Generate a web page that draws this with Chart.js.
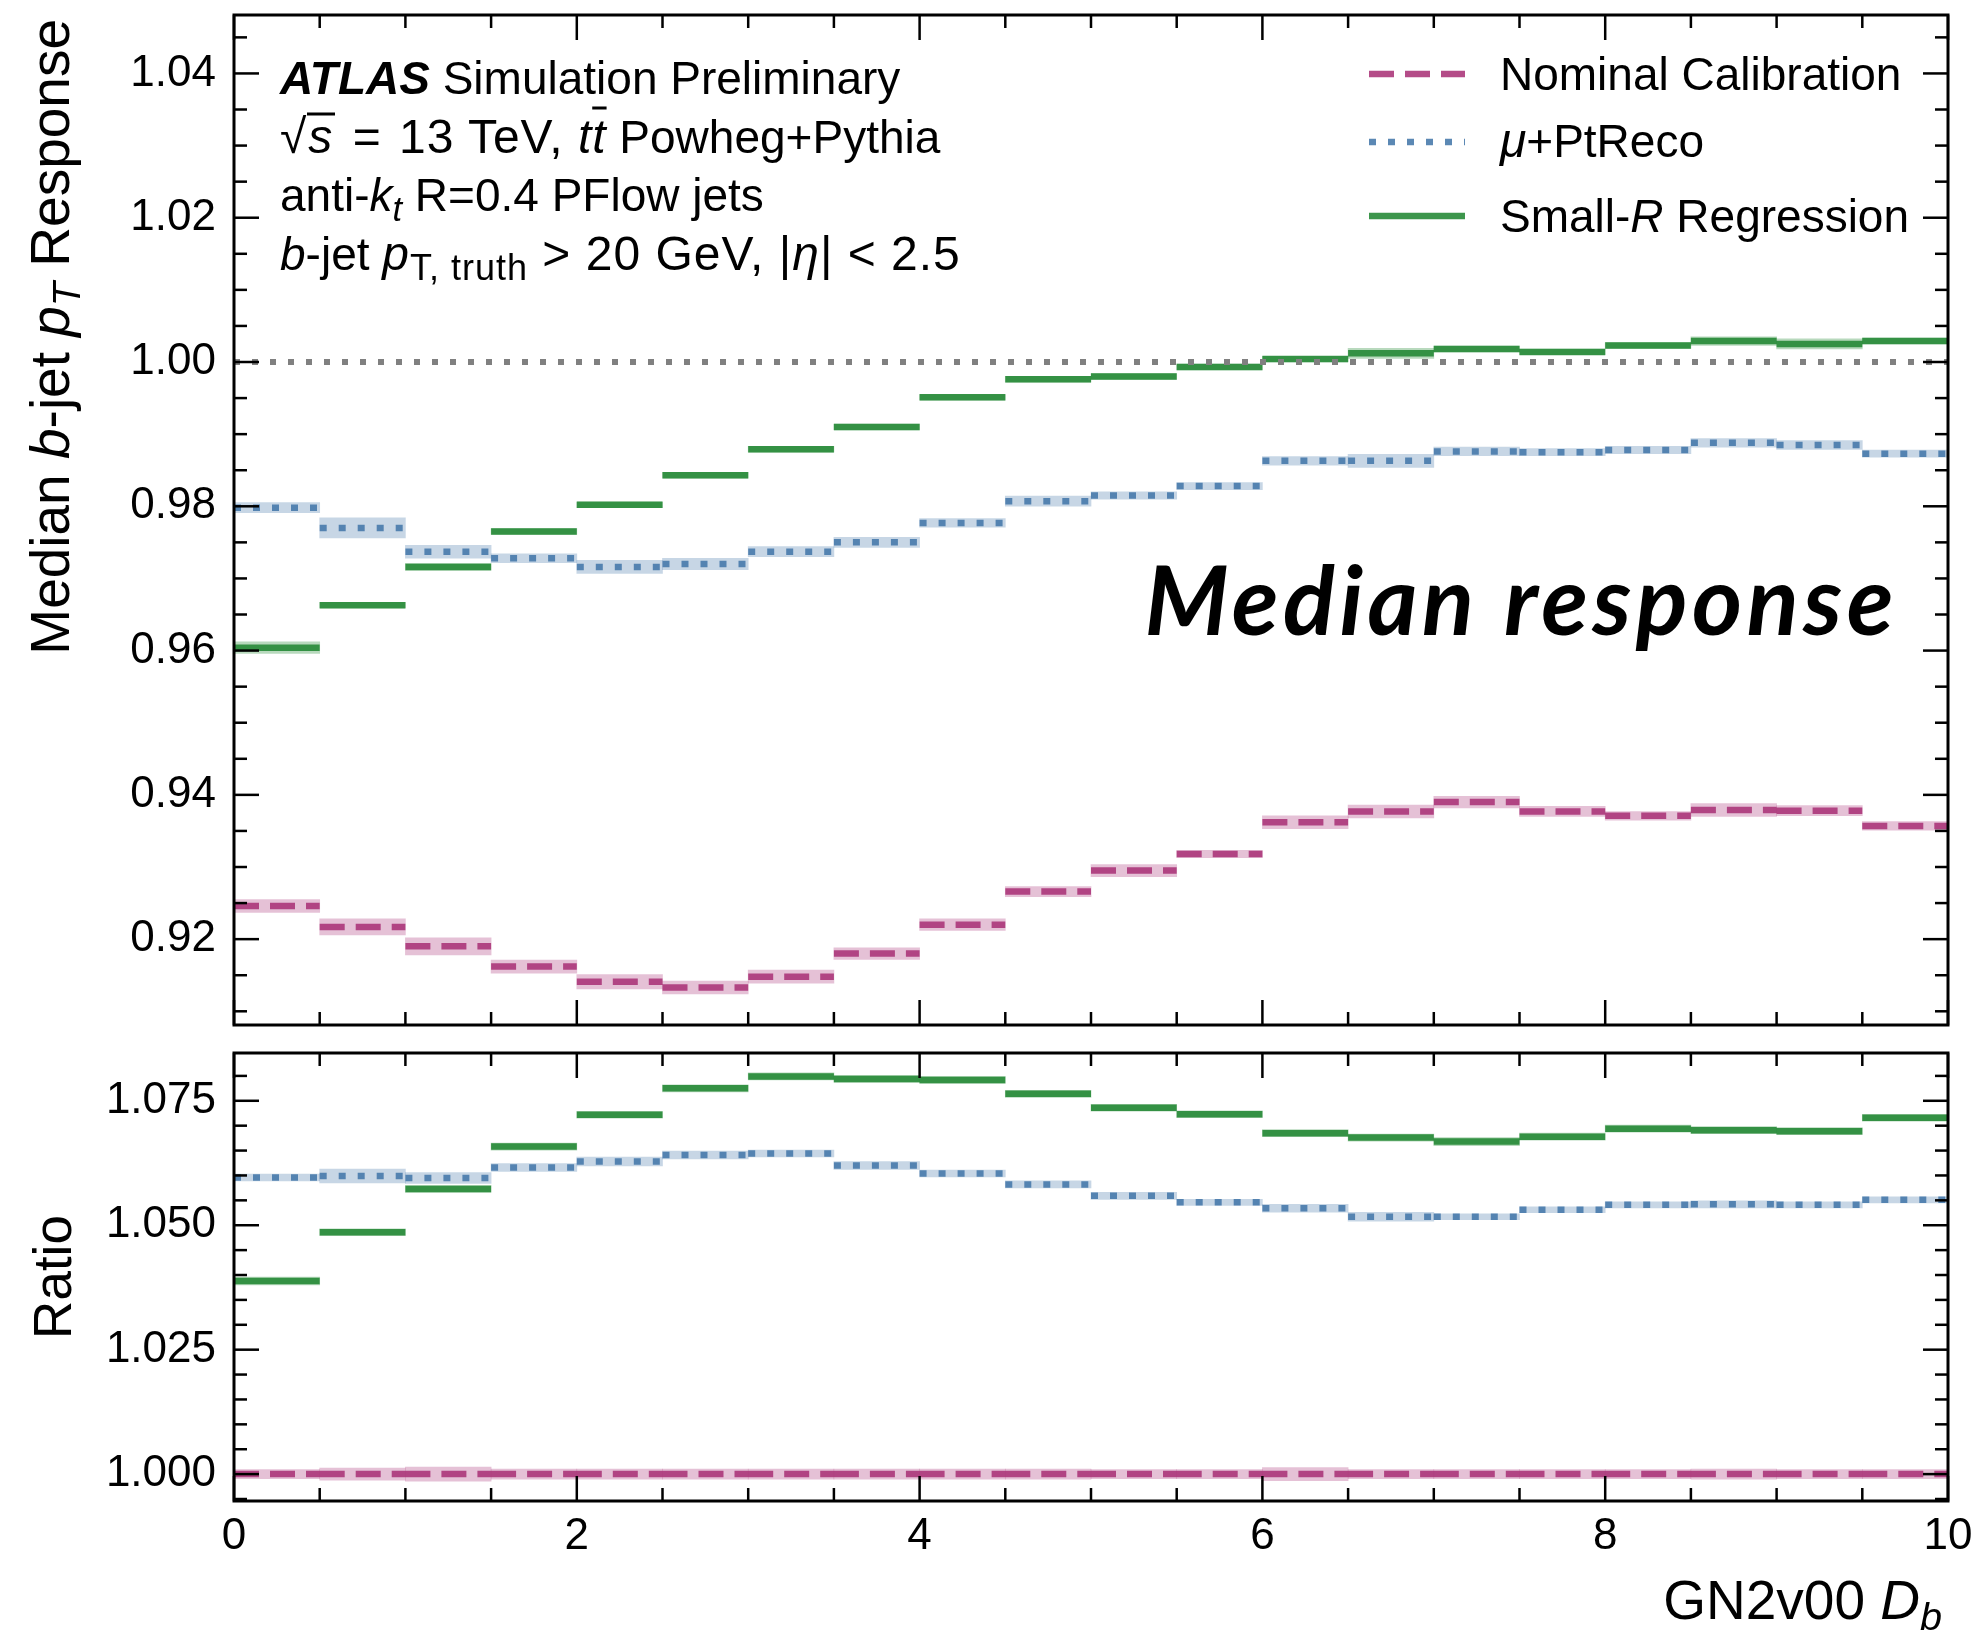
<!DOCTYPE html>
<html>
<head>
<meta charset="utf-8">
<script src="https://cdn.jsdelivr.net/npm/chart.js@4.4.1/dist/chart.umd.min.js"></script>
<style>
html,body{margin:0;padding:0;background:#fff;}
#wrap{position:relative;width:1977px;height:1630px;overflow:hidden;font-family:"Liberation Sans",Arial,Helvetica,sans-serif;color:#000;}
canvas{position:absolute;left:0;}
#cTop{top:0;}
#cBot{top:1040px;}
.t{position:absolute;white-space:nowrap;font-size:46px;line-height:46px;transform:translateY(-50%);}
.t sub{font-size:0.75em;vertical-align:-0.28em;line-height:0;}
.m{font-size:48px;letter-spacing:1px;}
.op{margin:0 3px;}
.ax{position:absolute;white-space:nowrap;font-size:55px;line-height:60px;}
.ax sub{font-size:0.72em;vertical-align:-0.28em;line-height:0;}
.rot{transform-origin:0 0;transform:rotate(-90deg);}
.ov{border-top:3px solid #000;padding:0 2px 0 1px;display:inline-block;line-height:42px;}
.ovl{text-decoration:overline;text-decoration-thickness:3px;}
#median{position:absolute;right:79px;top:598px;transform:translateY(-50%);white-space:nowrap;font-family:Lato,"Open Sans",sans-serif;font-style:italic;font-weight:700;font-size:96px;line-height:96px;letter-spacing:4.5px;}
</style>
</head>
<body>
<div id="wrap">
  <canvas id="cTop" width="1977" height="1040"></canvas>
  <canvas id="cBot" width="1977" height="590"></canvas>

  <div class="t" style="left:280px;top:78px;"><b><i>ATLAS</i></b> Simulation Preliminary</div>
  <div class="t" style="left:280px;top:136px;"><span class="m">√<span class="ov"><i>s</i></span> <span class="op">=</span> 13 TeV, <i>t</i><i class="ovl">t</i></span> Powheg+Pythia</div>
  <div class="t" style="left:280px;top:195px;">anti-<i>k</i><sub><i>t</i></sub> R=0.4 PFlow jets</div>
  <div class="t" style="left:280px;top:254px;"><i>b</i>-jet <span class="m"><i>p</i><sub>T, truth</sub> &gt; 20 GeV, |<i>η</i>| &lt; 2.5</span></div>

  <svg style="position:absolute;left:1369px;top:0;" width="96" height="260">
    <line x1="0" y1="74" x2="96" y2="74" stroke="rgba(170,51,119,0.88)" stroke-width="6.5" stroke-dasharray="25 11"/>
    <line x1="0" y1="142" x2="96" y2="142" stroke="rgba(68,119,170,0.88)" stroke-width="6.5" stroke-dasharray="7 12"/>
    <line x1="0" y1="216" x2="96" y2="216" stroke="rgba(34,136,51,0.88)" stroke-width="6.5"/>
  </svg>
  <div class="t" style="left:1500px;top:74px;">Nominal Calibration</div>
  <div class="t" style="left:1500px;top:141px;"><i style="font-size:48px">μ</i>+PtReco</div>
  <div class="t" style="left:1500px;top:216px;">Small-<i>R</i> Regression</div>

  <div id="median">Median response</div>

  <div class="ax rot" style="left:20px;top:1019px;width:1000px;text-align:right;">Median <i>b</i>-jet <i>p</i><sub><i>T</i></sub> Response</div>
  <div class="ax rot" style="left:23px;top:1477px;width:400px;text-align:center;font-size:53px;">Ratio</div>
  <div class="ax" style="right:35px;top:1600px;transform:translateY(-50%);">GN2v00 <i>D</i><sub><i>b</i></sub></div>
</div>

<script>
// ---------------- data ----------------
const BIN_LOW  = [0.0,0.5,1.0,1.5,2.0,2.5,3.0,3.5,4.0,4.5,5.0,5.5,6.0,6.5,7.0,7.5,8.0,8.5,9.0,9.5];
const BIN_HIGH = [0.5,1.0,1.5,2.0,2.5,3.0,3.5,4.0,4.5,5.0,5.5,6.0,6.5,7.0,7.5,8.0,8.5,9.0,9.5,10.0];

const NOMINAL     = [0.9246,0.9217,0.9190,0.9162,0.9141,0.9133,0.9148,0.9180,0.9220,0.9266,0.9295,0.9318,0.9362,0.9377,0.9390,0.9377,0.9371,0.9379,0.9378,0.9357];
const NOMINAL_ERR = [0.0009,0.0011,0.0012,0.0009,0.0010,0.0009,0.0009,0.0008,0.0008,0.0007,0.00085,0.0005,0.0009,0.0009,0.0008,0.0007,0.0006,0.0009,0.0007,0.0006];

const MU_PTRECO     = [0.9798,0.9770,0.9737,0.9728,0.9716,0.9720,0.9737,0.9750,0.9777,0.9807,0.9815,0.9828,0.9863,0.9863,0.9876,0.9875,0.9878,0.9888,0.9885,0.9873];
const MU_PTRECO_ERR = [0.0007,0.0014,0.0009,0.0006,0.0009,0.0008,0.0007,0.0007,0.0006,0.0007,0.0005,0.0005,0.0006,0.0009,0.0006,0.0005,0.0005,0.0006,0.0006,0.0005];

const SMALL_R     = [0.9604,0.9663,0.9716,0.9765,0.9802,0.9843,0.9879,0.9910,0.9951,0.9976,0.9980,0.9993,1.0004,1.0012,1.0018,1.0014,1.0023,1.0029,1.0025,1.0029];
const SMALL_R_ERR = [0.0008,0.0004,0.0005,0.0004,0.0004,0.0004,0.0004,0.0004,0.0004,0.0004,0.0004,0.0004,0.0004,0.0007,0.0004,0.0004,0.0004,0.0006,0.0007,0.0004];

const RATIO_NOMINAL     = [1.000,1.000,1.000,1.000,1.000,1.000,1.000,1.000,1.000,1.000,1.000,1.000,1.000,1.000,1.000,1.000,1.000,1.000,1.000,1.000];
const RATIO_NOMINAL_ERR = [0.0009,0.0012,0.0014,0.0010,0.0010,0.0010,0.0010,0.0010,0.0010,0.0010,0.0009,0.0009,0.0013,0.0009,0.0009,0.0009,0.0009,0.0010,0.0009,0.0009];

const RATIO_MU_PTRECO     = [1.0596,1.0599,1.0595,1.0616,1.0628,1.0641,1.0644,1.0620,1.0604,1.0582,1.0559,1.0546,1.0534,1.0517,1.0517,1.0531,1.0541,1.0542,1.0541,1.0551];
const RATIO_MU_PTRECO_ERR = [0.0007,0.0014,0.0011,0.0008,0.0009,0.0008,0.0007,0.0008,0.0007,0.0007,0.0007,0.0006,0.0008,0.0009,0.0006,0.0006,0.0006,0.0007,0.0006,0.0006];

const RATIO_SMALL_R     = [1.0388,1.0486,1.0573,1.0658,1.0722,1.0775,1.0799,1.0794,1.0792,1.0764,1.0736,1.0723,1.0685,1.0676,1.0668,1.0678,1.0694,1.0691,1.0689,1.0716];
const RATIO_SMALL_R_ERR = [0.0008,0.0007,0.0007,0.0007,0.0007,0.0007,0.0007,0.0007,0.0007,0.0007,0.0007,0.0007,0.0007,0.0007,0.0008,0.0007,0.0007,0.0007,0.0007,0.0007];

const REF_X = [0, 10];
const REF_Y = [1.0, 1.0];

const X_TICKS = [0,2,4,6,8,10];
const X_TICK_LABELS = ['0','2','4','6','8','10'];
const Y_TICKS_TOP = [0.92,0.94,0.96,0.98,1.00,1.02,1.04];
const Y_TICK_LABELS_TOP = ['0.92','0.94','0.96','0.98','1.00','1.02','1.04'];
const Y_TICKS_BOT = [1.000,1.025,1.050,1.075];
const Y_TICK_LABELS_BOT = ['1.000','1.025','1.050','1.075'];

// ---------------- styling ----------------
const FONT = '"Liberation Sans", Arial, Helvetica, sans-serif';
const PINK = 'rgba(170,51,119,0.88)',  PINK_BAND = 'rgba(170,51,119,0.30)';
const BLUE = 'rgba(68,119,170,0.88)',  BLUE_BAND = 'rgba(68,119,170,0.30)';
const GREEN = 'rgba(34,136,51,0.88)',  GREEN_BAND = 'rgba(34,136,51,0.32)';
const LW = 6.5;
const MAJOR = 25, MINOR = 13;

Chart.defaults.font.family = FONT;
Chart.defaults.color = '#000';

function stepPoints(vals){
  const pts = [];
  vals.forEach((v,i)=>{
    pts.push({x:BIN_LOW[i], y:v}, {x:BIN_HIGH[i], y:v}, {x:BIN_HIGH[i], y:null});
  });
  return pts;
}
function bandPoints(vals, errs){
  return vals.map((v,i)=>({x:(BIN_LOW[i]+BIN_HIGH[i])/2, y:[v-errs[i], v+errs[i]]}));
}
function minorTicks(lo, hi, step, majors){
  const out = [];
  const n = Math.round((hi-lo)/step);
  for (let i=0;i<=n;i++){
    const v = +(lo + i*step).toFixed(5);
    if (!majors.some(m=>Math.abs(m-v)<1e-7)) out.push(v);
  }
  return out;
}
function lineDS(label, vals, color, dash, order){
  return {type:'line', label, data:stepPoints(vals), borderColor:color, borderWidth:LW,
    borderDash:dash, borderCapStyle:'butt', borderJoinStyle:'miter', pointRadius:0,
    fill:false, tension:0, spanGaps:false, order};
}
function bandDS(label, vals, errs, color){
  return {type:'bar', label, data:bandPoints(vals, errs), backgroundColor:color, borderWidth:0,
    barPercentage:1, categoryPercentage:1, grouped:false, order:10};
}
function ticksPlugin(xMaj, xMin, yMaj, yMin){
  return {
    id:'atlasTicks',
    afterDraw(chart){
      const {ctx, chartArea:a} = chart;
      const xs = chart.scales.x, ys = chart.scales.y;
      ctx.save();
      ctx.strokeStyle = '#000';
      ctx.lineCap = 'butt';
      const seg = (x1,y1,x2,y2)=>{ctx.beginPath();ctx.moveTo(x1,y1);ctx.lineTo(x2,y2);ctx.stroke();};
      ctx.lineWidth = 2.5;
      xMin.forEach(v=>{const p=xs.getPixelForValue(v); seg(p,a.bottom,p,a.bottom-MINOR); seg(p,a.top,p,a.top+MINOR);});
      xMaj.forEach(v=>{const p=xs.getPixelForValue(v); seg(p,a.bottom,p,a.bottom-MAJOR); seg(p,a.top,p,a.top+MAJOR);});
      yMin.forEach(v=>{const p=ys.getPixelForValue(v); seg(a.left,p,a.left+MINOR,p); seg(a.right,p,a.right-MINOR,p);});
      yMaj.forEach(v=>{const p=ys.getPixelForValue(v); seg(a.left,p,a.left+MAJOR,p); seg(a.right,p,a.right-MAJOR,p);});
      ctx.lineWidth = 3;
      ctx.strokeRect(a.left, a.top, a.right-a.left, a.bottom-a.top);
      ctx.restore();
    }
  };
}

const X_MINOR = minorTicks(0, 10, 0.5, X_TICKS);
const Y_MINOR_TOP = minorTicks(0.910, 1.045, 0.005, Y_TICKS_TOP);
const Y_MINOR_BOT = minorTicks(0.995, 1.080, 0.005, Y_TICKS_BOT);

const common = {
  responsive:false, animation:false, events:[], devicePixelRatio:1,
  plugins:{legend:{display:false}, tooltip:{enabled:false}}
};

// ---------------- top panel ----------------
new Chart(document.getElementById('cTop'), {
  type:'line',
  data:{datasets:[
    {type:'line', label:'unity', data:REF_X.map((x,i)=>({x, y:REF_Y[i]})), borderColor:'rgba(128,128,128,1)',
      borderWidth:6, borderDash:[6,12], borderCapStyle:'butt', pointRadius:0, fill:false, order:0},
    lineDS('Nominal Calibration', NOMINAL, PINK, [25,11], 2),
    lineDS('μ+PtReco', MU_PTRECO, BLUE, [7,12], 2),
    lineDS('Small-R Regression', SMALL_R, GREEN, [], 2),
    bandDS('Nominal band', NOMINAL, NOMINAL_ERR, PINK_BAND),
    bandDS('μ+PtReco band', MU_PTRECO, MU_PTRECO_ERR, BLUE_BAND),
    bandDS('Small-R band', SMALL_R, SMALL_R_ERR, GREEN_BAND)
  ]},
  options:Object.assign({}, common, {
    layout:{padding:{left:0, right:29, top:15, bottom:15}},
    scales:{
      x:{type:'linear', min:0, max:10, offset:false, display:false},
      y:{type:'linear', position:'left', min:0.9081, max:1.0481,
        grid:{display:false, drawTicks:false}, border:{display:false},
        ticks:{font:{size:44, family:FONT}, color:'#000', padding:18, autoSkip:false,
          callback:(v,i)=>Y_TICK_LABELS_TOP[i]},
        afterBuildTicks:s=>{s.ticks = Y_TICKS_TOP.map(v=>({value:v}));},
        afterFit:s=>{s.width = 234; s.paddingTop = 0; s.paddingBottom = 0;}
      }
    }
  }),
  plugins:[ticksPlugin(X_TICKS, X_MINOR, Y_TICKS_TOP, Y_MINOR_TOP)]
});

// ---------------- ratio panel ----------------
new Chart(document.getElementById('cBot'), {
  type:'line',
  data:{datasets:[
    lineDS('Nominal Calibration', RATIO_NOMINAL, PINK, [25,11], 2),
    lineDS('μ+PtReco', RATIO_MU_PTRECO, BLUE, [7,12], 2),
    lineDS('Small-R Regression', RATIO_SMALL_R, GREEN, [], 2),
    bandDS('Nominal band', RATIO_NOMINAL, RATIO_NOMINAL_ERR, PINK_BAND),
    bandDS('μ+PtReco band', RATIO_MU_PTRECO, RATIO_MU_PTRECO_ERR, BLUE_BAND),
    bandDS('Small-R band', RATIO_SMALL_R, RATIO_SMALL_R_ERR, GREEN_BAND)
  ]},
  options:Object.assign({}, common, {
    layout:{padding:{left:0, right:29, top:13, bottom:0}},
    scales:{
      x:{type:'linear', position:'bottom', min:0, max:10, offset:false,
        grid:{display:false, drawTicks:false}, border:{display:false},
        ticks:{font:{size:44, family:FONT}, color:'#000', padding:9, autoSkip:false, maxRotation:0, minRotation:0,
          callback:(v,i)=>X_TICK_LABELS[i]},
        afterBuildTicks:s=>{s.ticks = X_TICKS.map(v=>({value:v}));},
        afterFit:s=>{s.height = 129; s.paddingLeft = 0; s.paddingRight = 0;}
      },
      y:{type:'linear', position:'left', min:0.9946, max:1.0846,
        grid:{display:false, drawTicks:false}, border:{display:false},
        ticks:{font:{size:44, family:FONT}, color:'#000', padding:18, autoSkip:false,
          callback:(v,i)=>Y_TICK_LABELS_BOT[i]},
        afterBuildTicks:s=>{s.ticks = Y_TICKS_BOT.map(v=>({value:v}));},
        afterFit:s=>{s.width = 234; s.paddingTop = 0; s.paddingBottom = 0;}
      }
    }
  }),
  plugins:[ticksPlugin(X_TICKS, X_MINOR, Y_TICKS_BOT, Y_MINOR_BOT)]
});
</script>
</body>
</html>
